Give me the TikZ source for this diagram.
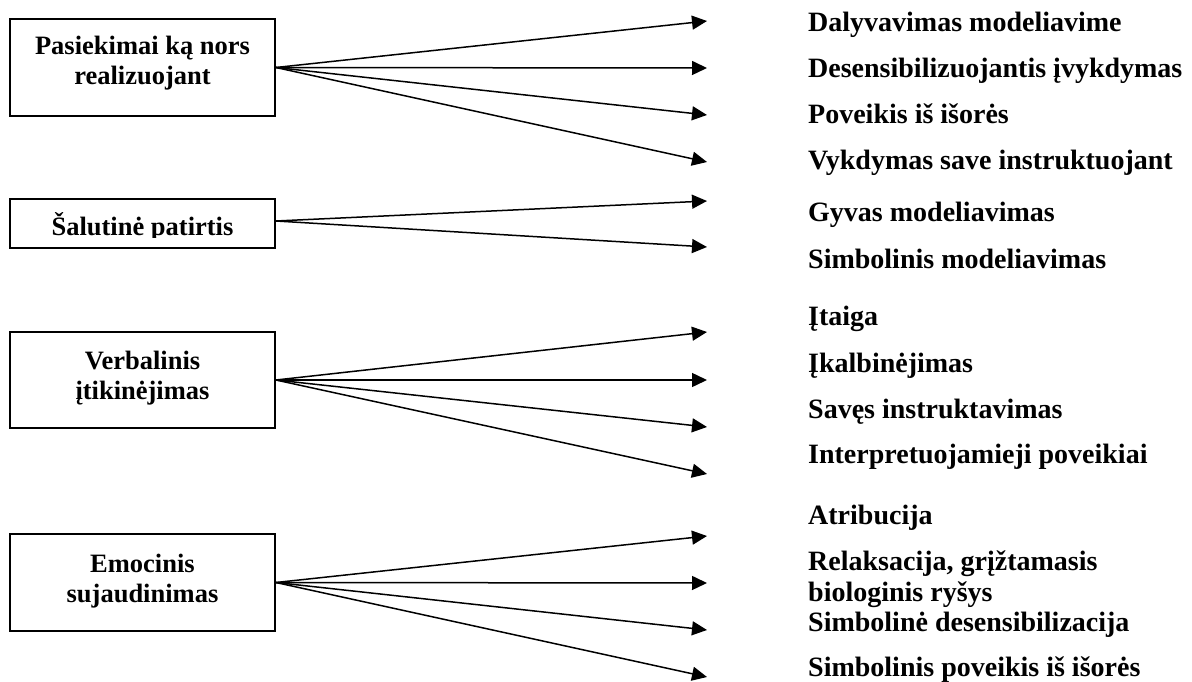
\documentclass[tikz,border=0pt]{standalone}
\usepackage{fontspec}
\setmainfont{Liberation Serif}
\usetikzlibrary{arrows.meta}

\begin{document}
\begin{tikzpicture}[x=1pt,y=-1pt,
  srcbox/.style={draw=black, line width=1.8pt, minimum width=265pt, minimum height=97pt, inner sep=0pt},
  boxtext/.style={align=center, font=\fontsize{26.5}{29.5}\selectfont\bfseries, inner sep=0pt},
  itemtext/.style={anchor=base west, align=left, inner sep=0pt, font=\fontsize{28}{31}\selectfont\bfseries},
  link/.style={line width=1.5pt, -{Triangle[length=15pt,width=14pt]}}]

\useasboundingbox (0,0) rectangle (1192,682);

% source boxes
\node[srcbox] (b1) at (142.5,67.5) {};
\node[srcbox, minimum height=49pt] (b2) at (142.5,223.5) {};
\node[srcbox, minimum height=96pt] (b3) at (142.5,380) {};
\node[srcbox] (b4) at (142.5,582.5) {};

\node[boxtext] (t1) at (142.5,63) {Pasiekimai ką nors\\realizuojant};
\begin{scope}
  \clip (10,199) rectangle (275,237.5);
  \node[boxtext, anchor=base] (t2) at (142.5,235) {Šalutinė patirtis};
\end{scope}
\node[boxtext] (t3) at (142.5,378) {Verbalinis\\įtikinėjimas};
\node[boxtext] (t4) at (142.5,581) {Emocinis\\sujaudinimas};

% arrow tips
\coordinate (e1) at (707,21);
\coordinate (e2) at (707,68);
\coordinate (e3) at (707,115);
\coordinate (e4) at (707,162);
\coordinate (e5) at (707,201);
\coordinate (e6) at (707,247);
\coordinate (e7) at (707,332);
\coordinate (e8) at (707,380);
\coordinate (e9) at (707,427);
\coordinate (e10) at (707,474);
\coordinate (e11) at (707,536);
\coordinate (e12) at (707,583);
\coordinate (e13) at (707,630);
\coordinate (e14) at (707,677);
\coordinate (s2) at ([yshift=2.5pt]b2.east);

\foreach \e in {e1,e2,e3,e4} \draw[link] (b1.east) -- (\e);
\foreach \e in {e5,e6} \draw[link] (s2) -- (\e);
\foreach \e in {e7,e8,e9,e10} \draw[link] (b3.east) -- (\e);
\foreach \e in {e11,e12,e13,e14} \draw[link] (b4.east) -- (\e);

% labels on the right
\node[itemtext] (l1) at (808,32) {Dalyvavimas modeliavime};
\node[itemtext] (l2) at (808,78) {Desensibilizuojantis įvykdymas};
\node[itemtext] (l3) at (808,124) {Poveikis iš išorės};
\node[itemtext] (l4) at (808,170) {Vykdymas save instruktuojant};
\node[itemtext] (l5) at (808,222) {Gyvas modeliavimas};
\node[itemtext] (l6) at (808,268) {Simbolinis modeliavimas};
\node[itemtext] (l7) at (808,325) {Įtaiga};
\node[itemtext] (l8) at (808,372) {Įkalbinėjimas};
\node[itemtext] (l9) at (808,418) {Savęs instruktavimas};
\node[itemtext] (l10) at (808,463) {Interpretuojamieji poveikiai};
\node[itemtext] (l11) at (808,524) {Atribucija};
\node[itemtext] (l12) at (808,601) {Relaksacija, grįžtamasis\\biologinis ryšys};
\node[itemtext] (l13) at (808,631) {Simbolinė desensibilizacija};
\node[itemtext] (l14) at (808,676) {Simbolinis poveikis iš išorės};
\end{tikzpicture}
\end{document}
